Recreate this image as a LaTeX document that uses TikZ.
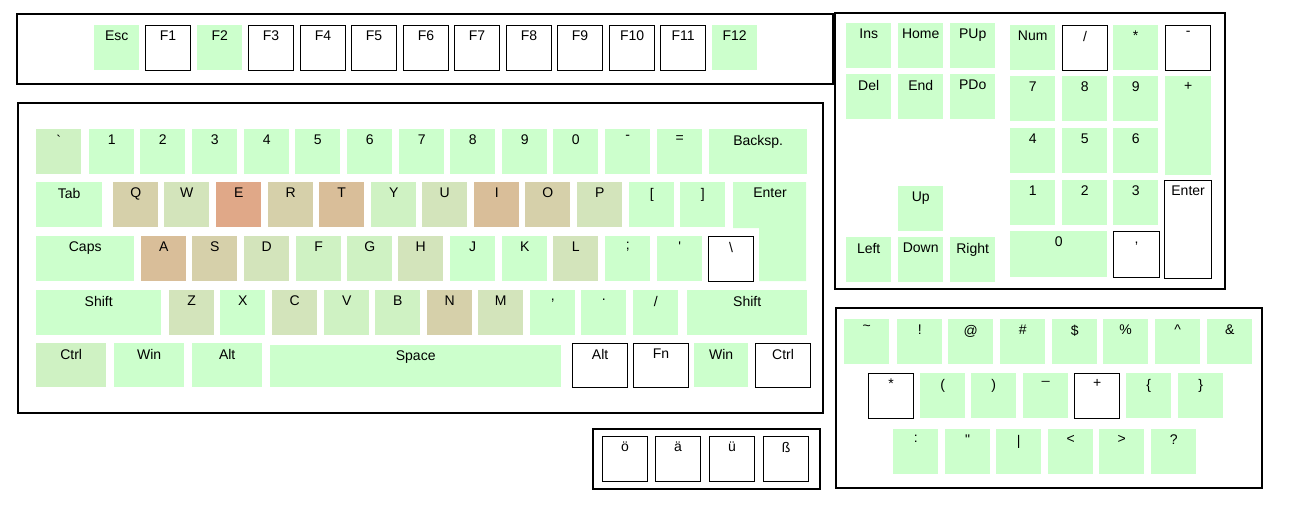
\documentclass[tikz,border=0pt]{standalone}
\usepackage{fontspec}
\setmainfont{Liberation Sans}
\usepackage{tikz}

% heat levels of the keys
\definecolor{heat0}{HTML}{CCFFCC}
\definecolor{heat1}{HTML}{CFF2C3}
\definecolor{heat2}{HTML}{D3E4BB}
\definecolor{heat3}{HTML}{D6D0AA}
\definecolor{heat4}{HTML}{D9BE99}
\definecolor{heat5}{HTML}{E0A888}

\tikzset{
	keybase/.style={rectangle, inner sep=0pt, anchor=north west},
	lv0/.style={keybase, fill=heat0},
	lv1/.style={keybase, fill=heat1},
	lv2/.style={keybase, fill=heat2},
	lv3/.style={keybase, fill=heat3},
	lv4/.style={keybase, fill=heat4},
	lv5/.style={keybase, fill=heat5},
	wk/.style={keybase, fill=white, draw=black, line width=1.2pt},
	lbl/.style={anchor=north, inner sep=0pt, yshift=-6pt, font=\fontsize{14}{16}\selectfont},
	frame/.style={draw=black, line width=1.6pt}
}

% name, x, y, width, height, style, label
\newcommand{\keycap}[7]{%
	\node[#6, minimum width=#4pt, minimum height=#5pt, label={[lbl]north:{#7}}] (#1) at (#2,#3) {};}

\begin{document}
\begin{tikzpicture}[x=1pt, y=-1pt]
	\useasboundingbox (0,0) rectangle (1295,517);

	% Frames
	\draw[frame] (17,14) rectangle (833,84);
	\draw[frame] (18,103) rectangle (823,413);
	\draw[frame] (835,13) rectangle (1225,289);
	\draw[frame] (836,308) rectangle (1262,488);
	\draw[frame] (593,429) rectangle (820,489);

	% Function row
	\foreach \x/\t/\s [count=\i] in {94/Esc/lv0, 145/F1/wk, 197/F2/lv0, 248/F3/wk, 300/F4/wk,
		351/F5/wk, 403/F6/wk, 454/F7/wk, 506/F8/wk, 557/F9/wk, 609/F10/wk, 660/F11/wk, 712/F12/lv0}
		\keycap{fk\i}{\x}{25}{45}{45}{\s}{\t};

	% Number row
	\foreach \x/\t/\s [count=\i] in {36/\textasciigrave/lv1, 89/1/lv0, 140/2/lv0, 192/3/lv0, 244/4/lv0, 295/5/lv0,
		347/6/lv0, 399/7/lv0, 450/8/lv0, 502/9/lv0, 553/0/lv0, 605/-/lv0, 657/=/lv0}
		\keycap{nk\i}{\x}{129}{45}{45}{\s}{\t};
	\keycap{backsp}{709}{129}{98}{45}{lv0}{Backsp.}

	% Top letter row
	\keycap{tab}{36}{182}{66}{45}{lv0}{Tab}
	\foreach \x/\t/\s [count=\i] in {113/Q/lv3, 164/W/lv2, 216/E/lv5, 268/R/lv3, 319/T/lv4,
		371/Y/lv1, 422/U/lv2, 474/I/lv4, 525/O/lv3, 577/P/lv2, 629/[/lv0, 680/]/lv0}
		\keycap{qk\i}{\x}{182}{45}{45}{\s}{\t};
	\fill[heat0] (733,182) -- (806,182) -- (806,281) -- (759,281) -- (759,228) -- (733,228) -- cycle;
	\coordinate (enter) at (770,182);
	\node[lbl] at (enter) {Enter};

	% Home row
	\keycap{caps}{36}{236}{98}{45}{lv0}{Caps}
	\foreach \x/\t/\s [count=\i] in {141/A/lv4, 192/S/lv3, 244/D/lv2, 296/F/lv1, 347/G/lv1,
		398/H/lv2, 450/J/lv0, 502/K/lv0, 553/L/lv2, 605/;/lv0, 657/\textquotesingle/lv0}
		\keycap{ak\i}{\x}{236}{45}{45}{\s}{\t};
	\keycap{bslash}{708}{236}{45}{45}{wk}{\textbackslash}

	% Bottom letter row
	\keycap{lshift}{36}{290}{125}{45}{lv0}{Shift}
	\foreach \x/\t/\s [count=\i] in {169/Z/lv2, 220/X/lv0, 272/C/lv2, 324/V/lv1, 375/B/lv1,
		427/N/lv3, 478/M/lv2, 530/{\raisebox{-4pt}{,}}/lv0, 581/{\raisebox{-4pt}{.}}/lv0, 633/{/}/lv0}
		\keycap{zk\i}{\x}{290}{45}{45}{\s}{\t};
	\keycap{rshift}{687}{290}{120}{45}{lv0}{Shift}

	% Space row
	\keycap{lctrl}{36}{343}{70}{44}{lv1}{Ctrl}
	\keycap{lwin}{114}{343}{70}{44}{lv0}{Win}
	\keycap{lalt}{192}{343}{70}{44}{lv0}{Alt}
	\keycap{space}{270}{345}{291}{42}{lv0}{Space}
	\keycap{ralt}{572}{343}{55}{44}{wk}{Alt}
	\keycap{fn}{633}{343}{55}{44}{wk}{Fn}
	\keycap{rwin}{694}{343}{54}{44}{lv0}{Win}
	\keycap{rctrl}{755}{343}{55}{44}{wk}{Ctrl}

	% Navigation block
	\foreach \x/\t [count=\i] in {846/Ins, 898/Home, 950/PUp}
		\keycap{nav\i}{\x}{23}{45}{45}{lv0}{\t};
	\foreach \x/\t [count=\i] in {846/Del, 898/End, 950/PDo}
		\keycap{nvb\i}{\x}{74}{45}{45}{lv0}{\t};
	\keycap{up}{898}{186}{45}{45}{lv0}{Up}
	\foreach \x/\t [count=\i] in {846/Left, 898/Down, 950/Right}
		\keycap{arr\i}{\x}{237}{45}{45}{lv0}{\t};

	% Numpad
	\foreach \x/\t/\s [count=\i] in {1010/Num/lv0, 1062/{/}/wk, 1113/*/lv0, 1165/-/wk}
		\keycap{np\i}{\x}{25}{45}{45}{\s}{\t};
	\foreach \x/\t [count=\i] in {1010/7, 1062/8, 1113/9}
		\keycap{npa\i}{\x}{76}{45}{45}{lv0}{\t};
	\keycap{npplus}{1165}{76}{46}{99}{lv0}{+}
	\foreach \x/\t [count=\i] in {1010/4, 1062/5, 1113/6}
		\keycap{npb\i}{\x}{128}{45}{45}{lv0}{\t};
	\foreach \x/\t [count=\i] in {1010/1, 1062/2, 1113/3}
		\keycap{npc\i}{\x}{180}{45}{45}{lv0}{\t};
	\keycap{npenter}{1164}{180}{47}{98}{wk}{Enter}
	\keycap{npzero}{1010}{231}{97}{46}{lv0}{0}
	\keycap{npcomma}{1113}{231}{46}{46}{wk}{\raisebox{-6pt}{,}}

	% Symbol block
	\foreach \x/\t [count=\i] in {844/\textasciitilde, 897/!, 948/@, 1000/\#, 1052/\$, 1103/\%,
		1155/\textasciicircum, 1207/\&}
		\keycap{sa\i}{\x}{319}{45}{45}{lv0}{\t};
	\foreach \x/\t/\s [count=\i] in {868/*/wk, 920/(/lv0, 971/)/lv0, 1023/\_/lv0, 1074/+/wk,
		1126/\{/lv0, 1178/\}/lv0}
		\keycap{sb\i}{\x}{373}{45}{45}{\s}{\t};
	\foreach \x/\t [count=\i] in {893/:, 945/\textquotedbl, 996/|, 1048/<, 1099/>, 1151/?}
		\keycap{sc\i}{\x}{429}{45}{45}{lv0}{\t};

	% Umlauts
	\foreach \x/\t [count=\i] in {602/ö, 655/ä, 709/ü, 763/ß}
		\keycap{um\i}{\x}{436}{45}{45}{wk}{\t};
\end{tikzpicture}
\end{document}
